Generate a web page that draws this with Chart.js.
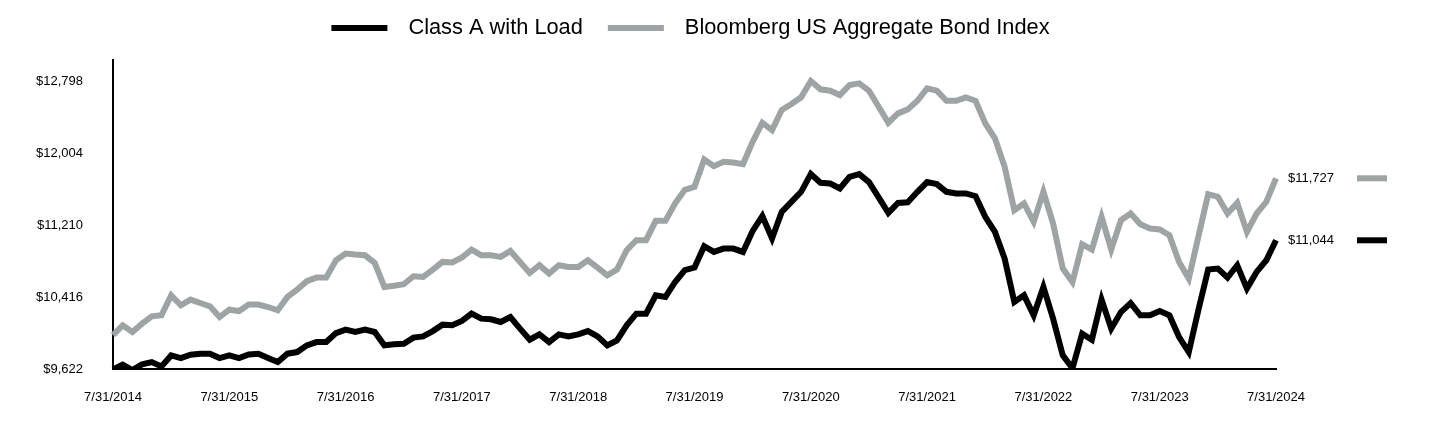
<!DOCTYPE html>
<html>
<head>
<meta charset="utf-8">
<script src="https://cdn.jsdelivr.net/npm/chart.js@4"></script>
<style>
  html, body { margin: 0; padding: 0; background: #fff; }
  #wrap { width: 1440px; height: 432px; position: relative; }
</style>
</head>
<body>
<div id="wrap"><canvas id="c" width="1440" height="432"></canvas></div>
<script>
// ---- data ----
const seriesNames = ["Class A with Load", "Bloomberg US Aggregate Bond Index"];
const seriesColors = ["#000000", "#9ea3a3"];
const tickLabels = ["7/31/2014","7/31/2015","7/31/2016","7/31/2017","7/31/2018","7/31/2019","7/31/2020","7/31/2021","7/31/2022","7/31/2023","7/31/2024"];
const yTicks = [9622, 10416, 11210, 12004, 12798];

const classA = [
  9622, 9674, 9615, 9677, 9703, 9655, 9776, 9747, 9784, 9795, 9795, 9747,
  9776, 9747, 9787, 9795, 9747, 9703, 9795, 9813, 9887, 9923, 9923, 10022,
  10060, 10034, 10060, 10034, 9887, 9898, 9905, 9972, 9986, 10044, 10115, 10108,
  10155, 10236, 10181, 10174, 10144, 10199, 10071, 9949, 10008, 9923, 10008, 9986,
  10008, 10044, 9986, 9887, 9942, 10107, 10236, 10236, 10438, 10420, 10585, 10715,
  10744, 10979, 10916, 10953, 10953, 10916, 11147, 11310, 11064, 11357, 11468, 11578,
  11773, 11677, 11670, 11615, 11743, 11773, 11685, 11516, 11346, 11456, 11463, 11578,
  11685, 11663, 11578, 11560, 11560, 11530, 11302, 11136, 10843, 10364, 10438, 10218,
  10530, 10181, 9776, 9635, 10016, 9949, 10391, 10071, 10254, 10353, 10218, 10218,
  10265, 10218, 9978, 9813, 10280, 10722, 10733, 10633, 10769, 10512, 10696, 10824,
  11044
];
const bondIndex = [
  10000, 10107, 10034, 10126, 10207, 10218, 10438, 10328, 10391, 10353, 10317, 10199,
  10280, 10265, 10336, 10336, 10309, 10273, 10420, 10501, 10593, 10633, 10633, 10824,
  10898, 10887, 10879, 10795, 10530, 10543, 10560, 10648, 10640, 10722, 10806, 10800,
  10854, 10942, 10879, 10879, 10861, 10927, 10806, 10684, 10769, 10677, 10769, 10750,
  10750, 10824, 10744, 10659, 10722, 10935, 11045, 11045, 11258, 11258, 11450, 11600,
  11633, 11935, 11861, 11909, 11900, 11883, 12129, 12339, 12258, 12479, 12545, 12619,
  12798, 12707, 12692, 12644, 12755, 12773, 12692, 12515, 12339, 12442, 12486, 12581,
  12718, 12692, 12581, 12581, 12619, 12581, 12332, 12167, 11853, 11376, 11450, 11247,
  11578, 11229, 10733, 10585, 11001, 10942, 11302, 10942, 11265, 11339, 11221, 11174,
  11163, 11100, 10806, 10622, 11089, 11552, 11523, 11339, 11456, 11136, 11339, 11468,
  11727
];

// monthly month-end categories, 7/31/2014 .. 7/31/2024
const categories = [];
for (let k = 0; k < classA.length; k++) {
  const m = (6 + k) % 12;
  const y = 2014 + Math.floor((6 + k) / 12);
  const last = new Date(y, m + 1, 0).getDate();
  categories.push((m + 1) + "/" + last + "/" + y);
}

const FONT = "'Liberation Sans', Arial, sans-serif";
const fmt = v => "$" + Math.round(v).toLocaleString("en-US");

// legend drawn on canvas, centred at x=690
const topLegend = {
  id: "topLegend",
  afterDraw(chart) {
    const ctx = chart.ctx;
    ctx.save();
    ctx.font = "21.8px " + FONT;
    ctx.textBaseline = "middle";
    ctx.textAlign = "left";
    const boxW = 56, gapText = 21, gapItem = 25, cy = 28;
    const items = chart.data.datasets.map(ds => ({ text: ds.label, color: ds.borderColor, w: ctx.measureText(ds.label).width }));
    let total = 0;
    items.forEach((it, i) => { total += boxW + gapText + it.w + (i ? gapItem : 0); });
    let x = 690.5 - total / 2;
    items.forEach(it => {
      ctx.fillStyle = it.color;
      ctx.fillRect(x, cy - 3, boxW, 6);
      ctx.fillStyle = "#000";
      ctx.fillText(it.text, x + boxW + gapText, cy);
      x += boxW + gapText + it.w + gapItem;
    });
    ctx.restore();
  }
};

const endLabels = {
  id: "endLabels",
  afterDatasetsDraw(chart) {
    const ctx = chart.ctx;
    const ys = chart.scales.y;
    ctx.save();
    ctx.font = "13px " + FONT;
    ctx.textBaseline = "middle";
    ctx.textAlign = "left";
    chart.data.datasets.forEach(ds => {
      const v = ds.data[ds.data.length - 1];
      const py = ys.getPixelForValue(v);
      ctx.fillStyle = "#000";
      ctx.fillText(fmt(v), 1288, py);
      ctx.fillStyle = ds.borderColor;
      ctx.fillRect(1357, py - 3, 30, 6);
    });
    ctx.restore();
  }
};

new Chart(document.getElementById("c"), {
  type: "line",
  data: {
    labels: categories,
    datasets: [
      { label: seriesNames[0], data: classA, borderColor: seriesColors[0], backgroundColor: seriesColors[0], borderWidth: 6, pointRadius: 0, tension: 0, fill: false },
      { label: seriesNames[1], data: bondIndex, borderColor: seriesColors[1], backgroundColor: seriesColors[1], borderWidth: 6, pointRadius: 0, tension: 0, fill: false }
    ]
  },
  options: {
    responsive: false,
    animation: false,
    events: [],
    layout: { padding: { left: 0, right: 164, top: 60, bottom: 6 } },
    plugins: {
      tooltip: { enabled: false },
      legend: { display: false }
    },
    scales: {
      x: {
        type: "category",
        offset: false,
        grid: { display: false, drawTicks: false },
        border: { display: true, color: "#000", width: 2 },
        ticks: {
          autoSkip: false,
          maxRotation: 0,
          minRotation: 0,
          padding: 20.5,
          color: "#000",
          font: { family: FONT, size: 13 },
          callback(val) {
            const lab = this.getLabelForValue(val);
            return tickLabels.includes(lab) ? lab : null;
          }
        }
      },
      y: {
        type: "linear",
        min: 9622,
        max: 13030,
        grid: { display: false, drawTicks: false },
        border: { display: true, color: "#000", width: 2 },
        afterBuildTicks(scale) { scale.ticks = yTicks.map(v => ({ value: v })); },
        afterFit(scale) { scale.width = 113; },
        ticks: {
          padding: 30,
          color: "#000",
          font: { family: FONT, size: 13 },
          callback: v => fmt(v)
        }
      }
    }
  },
  plugins: [endLabels, topLegend]
});
</script>
</body>
</html>
